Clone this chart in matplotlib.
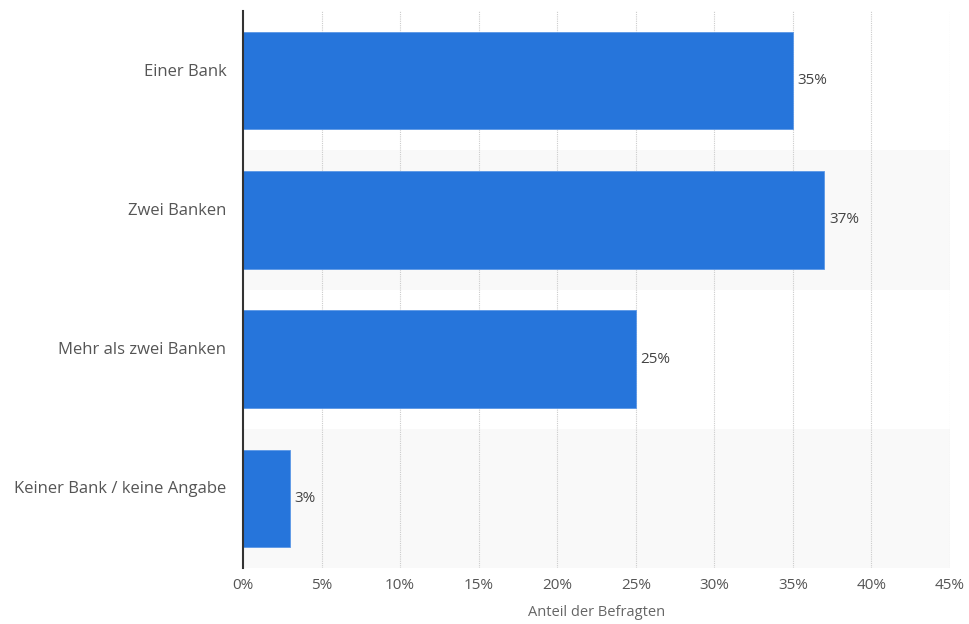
import matplotlib
matplotlib.use("Agg")
import matplotlib.pyplot as plt
import matplotlib.transforms as mtransforms
import numpy as np

categories = ["Einer Bank", "Zwei Banken", "Mehr als zwei Banken", "Keiner Bank / keine Angabe"]
values = [35, 37, 25, 3]
xticks = [0, 5, 10, 15, 20, 25, 30, 35, 40, 45]
xticklabels = [f"{t}%" for t in xticks]

plt.rcParams['font.family'] = ['Open Sans', 'DejaVu Sans']

fig = plt.figure(figsize=(9.69, 6.24), dpi=100)
ax = fig.add_axes([243/969, 1-568/624, (950-243)/969, (568-11)/624])

n = len(categories)
y = np.arange(n)
ax.set_ylim(n - 0.5, -0.5)
ax.set_xlim(0, 45)

# alternating band shading
for i in range(n):
    if i % 2 == 1:
        ax.axhspan(i - 0.5, i + 0.5, color="#f9f9f9", zorder=0, lw=0)

for t in xticks[1:]:
    ax.axvline(t, color="#cccccc", lw=0.8, ls=(0, (1, 1)), zorder=1)

ax.barh(y, values, height=0.7, color="#2675db", edgecolor="#5b97e6", linewidth=0.6, zorder=2)

for yi, v in zip(y, values):
    ax.text(v + 0.3, yi, f"{v}%", va="center", ha="left", fontsize=11, color="#444444", zorder=3)

ax.set_yticks(y)
ax.set_yticklabels(categories, fontsize=12, color="#555555")
ax.set_xticks(xticks)
ax.set_xticklabels(xticklabels, fontsize=11, color="#555555")
ax.tick_params(axis="both", length=0)
ax.tick_params(axis="x", pad=7)
ax.tick_params(axis="y", pad=12)
ax.set_xlabel("Anteil der Befragten", fontsize=10.5, color="#666666", labelpad=9)

shift = mtransforms.ScaledTranslation(0, 11/100, fig.dpi_scale_trans)
for lab in ax.get_yticklabels():
    lab.set_transform(lab.get_transform() + shift)

for s in ["top", "right", "bottom"]:
    ax.spines[s].set_visible(False)
ax.spines["left"].set_color("#333333")
ax.spines["left"].set_linewidth(1.5)
ax.spines["left"].set_zorder(4)

fig.savefig("out.png", dpi=100)
